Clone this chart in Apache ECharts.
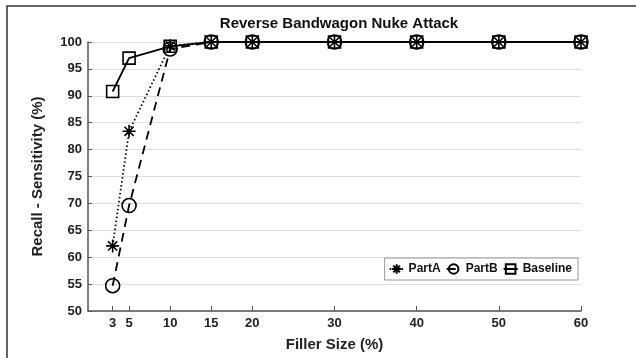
<!DOCTYPE html>
<html lang="en">
<head>
<meta charset="UTF-8">
<title>Reverse Bandwagon Nuke Attack</title>
<script src="https://cdn.jsdelivr.net/npm/echarts@6/dist/echarts.min.js"></script>
<style>
  html, body { margin: 0; padding: 0; background: #fff; }
  #chart { width: 636px; height: 358px; }
</style>
</head>
<body>
<div id="chart"></div>
<script>
// data
var fillerSize = [3, 5, 10, 15, 20, 30, 40, 50, 60];
var partA    = [62.1, 83.4, 99.3, 100, 100, 100, 100, 100, 100];
var partB    = [54.7, 69.6, 98.7, 100, 100, 100, 100, 100, 100];
var baseline = [90.8, 97.0, 99.2, 100, 100, 100, 100, 100, 100];
var xTicks = [3, 5, 10, 15, 20, 30, 40, 50, 60];

function pairs(ys) {
  return fillerSize.map(function (x, i) { return [x, ys[i]]; });
}

var font = 'Liberation Sans, Arial, sans-serif';
var asterisk = 'path://M10,0L10,20M0,10L20,10M3,3L17,17M3,17L17,3';

var chart = echarts.init(document.getElementById('chart'));
chart.setOption({
  animation: false,
  backgroundColor: '#fff',
  title: {
    text: 'Reverse Bandwagon Nuke Attack',
    left: 334, top: 11, textAlign: 'center',
    textStyle: { fontFamily: font, fontSize: 15, fontWeight: 'bold', color: '#111' }
  },
  graphic: [{
    type: 'polyline',
    shape: { points: [[7, 358], [7, 6], [636, 6]] },
    style: { stroke: '#333', lineWidth: 1.5, fill: null }
  }],
  grid: { left: 88, right: 55, top: 42, bottom: 47 },
  legend: {
    right: 58, top: 258,
    backgroundColor: '#fff',
    borderColor: '#999', borderWidth: 1,
    padding: [5, 6, 5, 4],
    itemWidth: 14, itemHeight: 12, itemGap: 5,
    textStyle: { fontFamily: font, fontSize: 12, fontWeight: 'bold', color: '#111' },
    data: ['PartA', 'PartB', 'Baseline']
  },
  xAxis: {
    type: 'value', min: 0, max: 60,
    name: 'Filler Size (%)', nameLocation: 'middle', nameGap: 26,
    nameTextStyle: { fontFamily: font, fontSize: 15, fontWeight: 'bold', color: '#222' },
    axisLine: { lineStyle: { color: '#555', width: 1.5 } },
    axisTick: { inside: true, length: 5, customValues: xTicks, lineStyle: { color: '#555' } },
    axisLabel: { customValues: xTicks, margin: 6, fontFamily: font, fontSize: 13, fontWeight: 'bold', color: '#222' },
    splitLine: { show: false }
  },
  yAxis: {
    type: 'value', min: 50, max: 100, interval: 5,
    name: 'Recall - Sensitivity (%)', nameLocation: 'middle', nameGap: 43,
    nameTextStyle: { fontFamily: font, fontSize: 15, fontWeight: 'bold', color: '#222' },
    axisLine: { show: true, lineStyle: { color: '#555', width: 1.5 } },
    axisTick: { show: true, inside: true, length: 4, lineStyle: { color: '#555' } },
    axisLabel: { margin: 6, fontFamily: font, fontSize: 13, fontWeight: 'bold', color: '#222' },
    splitLine: { lineStyle: { color: '#ddd', width: 1 } }
  },
  series: [{
    name: 'PartA', type: 'line', data: pairs(partA),
    symbol: asterisk, symbolSize: 13,
    itemStyle: { color: 'rgba(0,0,0,0)', borderColor: '#000', borderWidth: 1.6 },
    lineStyle: { color: '#000', width: 1.8, type: [1.5, 2.5] }
  }, {
    name: 'PartB', type: 'line', data: pairs(partB),
    symbol: 'circle', symbolSize: 14,
    itemStyle: { color: 'rgba(0,0,0,0)', borderColor: '#000', borderWidth: 1.6 },
    lineStyle: { color: '#000', width: 1.8, type: [9, 6] }
  }, {
    name: 'Baseline', type: 'line', data: pairs(baseline),
    symbol: 'rect', symbolSize: 12,
    itemStyle: { color: 'rgba(0,0,0,0)', borderColor: '#000', borderWidth: 1.6 },
    lineStyle: { color: '#000', width: 1.8 }
  }]
});
</script>
</body>
</html>
